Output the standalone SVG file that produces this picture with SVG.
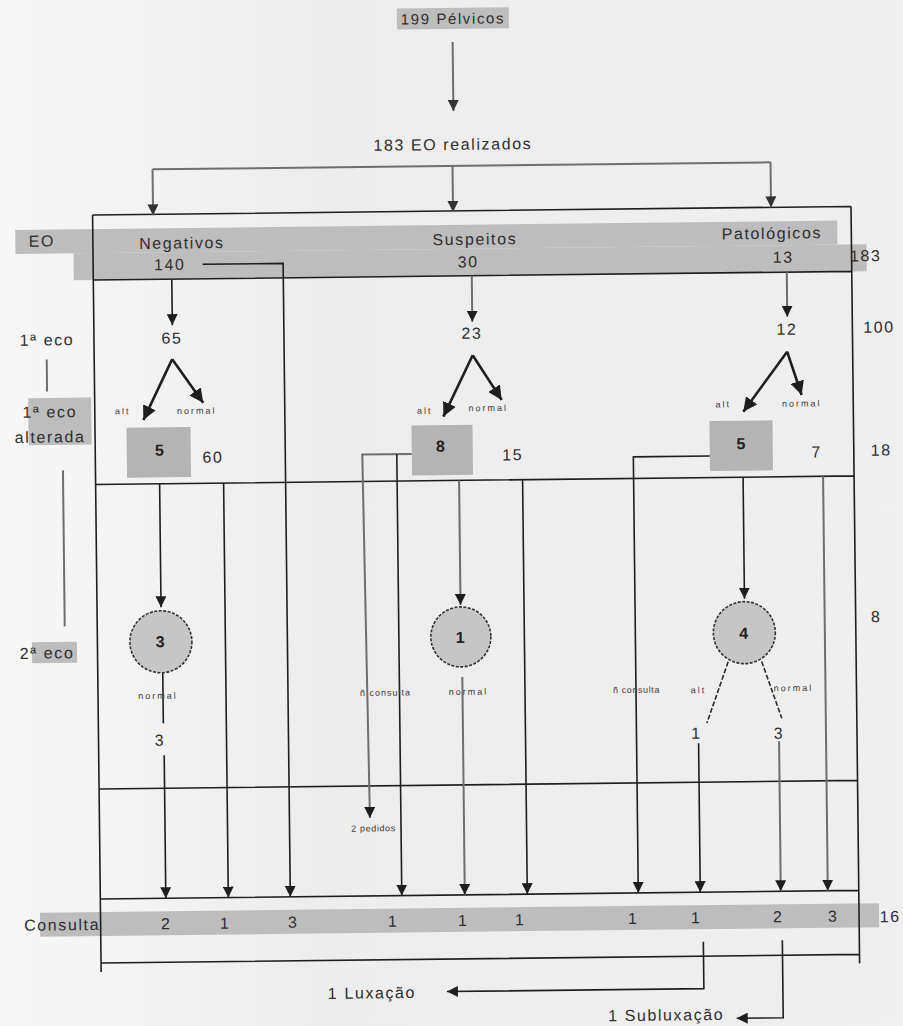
<svg xmlns="http://www.w3.org/2000/svg" width="903" height="1026" viewBox="0 0 903 1026">
<style>
.t{font-family:"Liberation Sans",Arial,sans-serif;font-size:16px;fill:#2e2e2e;letter-spacing:1.6px;text-anchor:middle}
.s{font-family:"Liberation Sans",Arial,sans-serif;font-size:9px;fill:#3a3a3a;letter-spacing:2px;text-anchor:middle}
.b{font-weight:bold;fill:#222}
.hl{fill:#bdbdbd}
.box{fill:#b4b4b4}
.frame{stroke:#1e1e1e;stroke-width:1.6;fill:none}
.dk{stroke:#1e1e1e;stroke-width:1.6;fill:none}
.gr{stroke:#6e6e6e;stroke-width:2;fill:none}
.fork{stroke:#1e1e1e;stroke-width:2.6;fill:none}
.circ{fill:#c6c6c6;stroke:#333;stroke-width:1.6;stroke-dasharray:3 1.5}
.dash{stroke:#2a2a2a;stroke-width:1.6;stroke-dasharray:5 2;fill:none}
</style>
<defs>
<linearGradient id="paper" x1="0" y1="0" x2="1" y2="0">
<stop offset="0" stop-color="#f7f7f7"/>
<stop offset="0.35" stop-color="#ededed"/>
<stop offset="1" stop-color="#efefef"/>
</linearGradient>
<marker id="a" markerUnits="userSpaceOnUse" markerWidth="11" markerHeight="11" refX="11" refY="5.5" orient="auto">
<path d="M0,0 L11,5.5 L0,11 z" fill="#1e1e1e"/>
</marker>
<marker id="ag" markerUnits="userSpaceOnUse" markerWidth="11" markerHeight="11" refX="11" refY="5.5" orient="auto">
<path d="M0,0 L11,5.5 L0,11 z" fill="#333"/>
</marker>
<marker id="af" markerUnits="userSpaceOnUse" markerWidth="14" markerHeight="14" refX="14" refY="7" orient="auto">
<path d="M0,0 L14,7 L0,14 z" fill="#1e1e1e"/>
</marker>
</defs>
<rect x="0" y="0" width="903" height="1026" fill="url(#paper)"/>
<g transform="rotate(-0.65 450 560)">
<g id="bands">
<rect class="hl" x="19" y="225" width="822" height="24"/>
<rect class="hl" x="77" y="249" width="793" height="27"/>
<rect class="hl" x="36" y="908" width="839" height="24"/>
<rect class="hl" x="30" y="393.5" width="63" height="47"/>
<rect class="hl" x="31" y="637.5" width="45" height="21"/>
</g>
<g id="frame">
<path class="frame" d="M96.5,211 H855 M96.5,211 V968 M855,211 V968 M96.5,276 H855 M96.5,480.5 H855 M96.5,785 H855 M96.5,895 H855 M96.5,959 H855"/>
</g>
<g id="connectors">
<line class="gr" x1="458.5" y1="42" x2="458.5" y2="111" marker-end="url(#ag)"/>
<path class="gr" d="M157,166 H775"/>
<line class="gr" x1="157" y1="166" x2="157" y2="212" marker-end="url(#ag)"/>
<line class="gr" x1="457" y1="166" x2="457" y2="212" marker-end="url(#ag)"/>
<line class="gr" x1="775" y1="166" x2="775" y2="211" marker-end="url(#ag)"/>
<path class="dk" d="M206,261.5 H286.5 V895" marker-end="url(#a)"/>
<line class="dk" x1="175" y1="276" x2="175" y2="322" marker-end="url(#a)"/>
<line class="fork" x1="174.5" y1="356" x2="145" y2="416.5" marker-end="url(#af)"/>
<line class="fork" x1="174.5" y1="356" x2="205" y2="400" marker-end="url(#af)"/>
<line class="dk" x1="160.5" y1="480.5" x2="160.5" y2="604" marker-end="url(#a)"/>
<line class="dk" x1="161.5" y1="669.5" x2="161.5" y2="720"/>
<line class="dk" x1="162" y1="752" x2="162" y2="895" marker-end="url(#a)"/>
<line class="dk" x1="224.5" y1="480.5" x2="224.5" y2="895" marker-end="url(#a)"/>
<line class="gr" x1="475" y1="276" x2="475" y2="322" marker-end="url(#a)"/>
<line class="fork" x1="475" y1="355.5" x2="445" y2="416.5" marker-end="url(#af)"/>
<line class="fork" x1="475" y1="355.5" x2="503.5" y2="400.5" marker-end="url(#af)"/>
<path class="gr" d="M413,453.5 H363.5 L367,817" marker-end="url(#a)"/>
<line class="dk" x1="398" y1="453.5" x2="398" y2="895" marker-end="url(#a)"/>
<line class="gr" x1="460" y1="480.5" x2="460" y2="605" marker-end="url(#a)"/>
<line class="gr" x1="461" y1="677" x2="461" y2="895" marker-end="url(#a)"/>
<line class="dk" x1="523.5" y1="480.5" x2="523.5" y2="895" marker-end="url(#a)"/>
<line class="gr" x1="790" y1="276" x2="790" y2="320.5" marker-end="url(#a)"/>
<line class="fork" x1="789.5" y1="355.5" x2="745" y2="415" marker-end="url(#af)"/>
<line class="fork" x1="789.5" y1="355.5" x2="803.5" y2="399" marker-end="url(#af)"/>
<path class="dk" d="M711,459 H634.5 V895" marker-end="url(#a)"/>
<line class="dk" x1="744" y1="480.5" x2="744" y2="602" marker-end="url(#a)"/>
<line class="dash" x1="727" y1="665" x2="705" y2="726"/>
<line class="dash" x1="760.5" y1="665" x2="780" y2="722"/>
<line class="dk" x1="696.5" y1="746" x2="696.5" y2="895" marker-end="url(#a)"/>
<line class="gr" x1="777" y1="745" x2="777" y2="895" marker-end="url(#a)"/>
<line class="gr" x1="824" y1="480.5" x2="824" y2="895" marker-end="url(#a)"/>
<path class="dk" d="M699,944.5 V991.5 H442" marker-end="url(#a)"/>
<path class="dk" d="M778,944 V1021.5 H731.5" marker-end="url(#a)"/>
<line class="gr" x1="49" y1="355" x2="49" y2="387"/>
<line class="gr" x1="64" y1="466" x2="64" y2="622"/>
</g>
<g id="top">
<rect class="hl" x="403" y="8" width="112" height="21"/>
<text class="t" x="459" y="24" style="font-size:15px">199 Pélvicos</text>
</g>
<g id="realizados"><text class="t" x="457.5" y="150">183 EO realizados</text></g>
<g id="eo-row">
<text class="t" x="45.5" y="242">EO</text>
<text class="t" x="185.5" y="245.5">Negativos</text>
<text class="t" x="173" y="267">140</text>
<text class="t" x="478.5" y="245">Suspeitos</text>
<text class="t" x="471.5" y="267.5">30</text>
<text class="t" x="775.5" y="242.5">Patológicos</text>
<text class="t" x="786.5" y="266.5">13</text>
<text class="t" x="869" y="266">183</text>
</g>
<g id="left-labels">
<text class="t" x="49.5" y="341">1ª eco</text>
<text class="t" x="51.5" y="413">1ª eco</text>
<text class="t" x="51.5" y="438">alterada</text>
<text class="t" x="46" y="654">2ª eco</text>
</g>
<g id="right-totals">
<text class="t" x="881.5" y="337.5">100</text>
<text class="t" x="882.5" y="460.5">18</text>
<text class="t" x="875.5" y="627">8</text>
<text class="t" x="886" y="927">16</text>
</g>
<g id="neg">
<text class="t" x="174.5" y="340.5">65</text>
<text class="s" x="124.5" y="410.5">alt</text>
<text class="s" x="198.5" y="411">normal</text>
<rect class="box" x="128" y="424" width="64" height="50"/>
<text class="t b" x="161.5" y="452.5">5</text>
<text class="t" x="214" y="460">60</text>
<circle class="circ" cx="160" cy="638.5" r="31"/>
<text class="t b" x="160" y="644">3</text>
<text class="s" x="156.5" y="695.5">normal</text>
<text class="t" x="158" y="742.5">3</text>
</g>
<g id="susp">
<text class="t" x="474.5" y="339">23</text>
<text class="s" x="426.5" y="413.5">alt</text>
<text class="s" x="490" y="411.5">normal</text>
<rect class="box" x="413" y="425" width="61" height="50"/>
<text class="t b" x="442.5" y="451.5">8</text>
<text class="t" x="514" y="461">15</text>
<circle class="circ" cx="460" cy="637" r="30"/>
<text class="t b" x="460" y="643">1</text>
<text class="s" x="467" y="695">normal</text>
<text class="s" x="384" y="695" style="letter-spacing:1px">ñ consulta</text>
<text class="s" x="370.5" y="830.5" style="letter-spacing:0.6px">2 pedidos</text>
</g>
<g id="pato">
<text class="t" x="789.5" y="338.5">12</text>
<text class="s" x="725" y="410.5">alt</text>
<text class="s" x="803.5" y="410.5">normal</text>
<rect class="box" x="711" y="424" width="63" height="50"/>
<text class="t b" x="743" y="452.5">5</text>
<text class="t" x="818" y="461.5">7</text>
<circle class="circ" cx="743.5" cy="636" r="31"/>
<text class="t b" x="743.5" y="642">4</text>
<text class="s" x="697" y="696">alt</text>
<text class="s" x="792" y="695">normal</text>
<text class="s" x="635" y="695" style="letter-spacing:0.6px">ñ consulta</text>
<text class="t" x="694.5" y="741.5">1</text>
<text class="t" x="777" y="742.5">3</text>
</g>
<g id="consulta">
<text class="t" x="58" y="926">Consulta</text>
<text class="t" x="162" y="926">2</text>
<text class="t" x="221" y="926">1</text>
<text class="t" x="289" y="926">3</text>
<text class="t" x="389" y="926">1</text>
<text class="t" x="459" y="926">1</text>
<text class="t" x="516" y="926">1</text>
<text class="t" x="629" y="926">1</text>
<text class="t" x="692" y="926">1</text>
<text class="t" x="774" y="926">2</text>
<text class="t" x="829" y="926">3</text>
</g>
<g id="outcomes">
<text class="t" x="367" y="997.5">1 Luxação</text>
<text class="t" x="661" y="1023">1 Subluxação</text>
</g>
</g>
</svg>
